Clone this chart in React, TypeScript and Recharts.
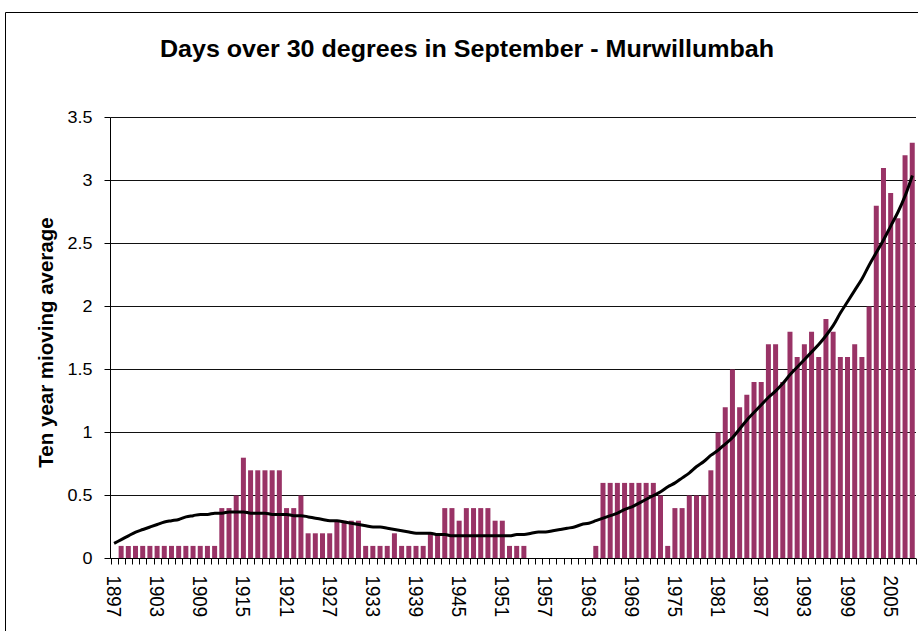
import React from 'react';
import { ComposedChart, Bar, Line, XAxis, YAxis, CartesianGrid } from 'recharts';

const years: number[] = Array.from({ length: 112 }, (_, i) => 1897 + i);

const movingAverage: number[] = [
  0,
  0.1, 0.1, 0.1, 0.1, 0.1, 0.1, 0.1, 0.1, 0.1, 0.1, 0.1, 0.1, 0.1, 0.1,
  0.4, 0.4, 0.5, 0.8, 0.7, 0.7, 0.7, 0.7, 0.7, 0.4, 0.4, 0.5,
  0.2, 0.2, 0.2, 0.2, 0.3, 0.3, 0.3, 0.3, 0.1, 0.1, 0.1, 0.1, 0.2, 0.1, 0.1, 0.1, 0.1,
  0.2, 0.2, 0.4, 0.4, 0.3, 0.4, 0.4, 0.4, 0.4, 0.3, 0.3, 0.1, 0.1, 0.1,
  0, 0, 0, 0, 0, 0, 0, 0, 0,
  0.1, 0.6, 0.6, 0.6, 0.6, 0.6, 0.6, 0.6, 0.6, 0.5, 0.1, 0.4, 0.4, 0.5, 0.5, 0.5, 0.7,
  1.0, 1.2, 1.5, 1.2, 1.3, 1.4, 1.4, 1.7, 1.7, 1.4, 1.8, 1.6, 1.7, 1.8, 1.6, 1.9, 1.8,
  1.6, 1.6, 1.7, 1.6, 2.0, 2.8, 3.1, 2.9, 2.7, 3.2, 3.3,
];

const trend: number[] = [
  0.12, 0.15, 0.18, 0.21, 0.23, 0.25, 0.27, 0.29, 0.30, 0.31,
  0.33, 0.34, 0.35, 0.35, 0.36, 0.36, 0.37, 0.37, 0.37, 0.36,
  0.36, 0.36, 0.35, 0.35, 0.35, 0.34, 0.34, 0.33, 0.32, 0.31,
  0.30, 0.30, 0.29, 0.28, 0.27, 0.26, 0.25, 0.25, 0.24, 0.23,
  0.22, 0.21, 0.20, 0.20, 0.20, 0.19, 0.19, 0.18, 0.18, 0.18,
  0.18, 0.18, 0.18, 0.18, 0.18, 0.18, 0.19, 0.19, 0.20, 0.21,
  0.21, 0.22, 0.23, 0.24, 0.25, 0.27, 0.28, 0.30, 0.32, 0.34,
  0.36, 0.39, 0.41, 0.44, 0.47, 0.50, 0.53, 0.57, 0.60, 0.64,
  0.68, 0.73, 0.77, 0.82, 0.86, 0.91, 0.96, 1.03, 1.10, 1.16,
  1.22, 1.28, 1.33, 1.39, 1.46, 1.52, 1.58, 1.64, 1.70, 1.77,
  1.85, 1.95, 2.04, 2.13, 2.22, 2.33, 2.43, 2.53, 2.64, 2.75,
  2.88, 3.04,
];

const yTicks: number[] = [0, 0.5, 1, 1.5, 2, 2.5, 3, 3.5];
const labelStep = 6;

const data = years.map((year, i) => ({ year, value: movingAverage[i], trend: trend[i] }));

const W = 918;
const H = 631;
const M_TOP = 117.5;
const M_RIGHT = 2;
const Y_AXIS_W = 110.5;
const X_AXIS_H = 72.5;
const BW = (W - Y_AXIS_W - M_RIGHT) / years.length;
const FONT = '"Liberation Sans", Arial, sans-serif';
const STRETCH = 1.09;

const XTick = (props: any) => {
  const { x, y, payload, index } = props;
  const i = typeof index === 'number' ? index : payload.index;
  const half = BW / 2;
  const tx = Math.round(x - half) + 0.5;
  const tx2 = Math.round(x + half) + 0.5;
  return (
    <g>
      <line x1={tx} x2={tx} y1={y} y2={y + 6} stroke="#000" strokeWidth={1} />
      {i === years.length - 1 && (
        <line x1={tx2} x2={tx2} y1={y} y2={y + 6} stroke="#000" strokeWidth={1} />
      )}
      {i % labelStep === 0 && (
        <text
          transform={`translate(${x},${y + 17}) scale(${STRETCH},1) rotate(90)`}
          x={0}
          y={0}
          dy="0.35em"
          textAnchor="start"
          fontSize={18.7}
          fontFamily={FONT}
          fill="#000"
        >
          {payload.value}
        </text>
      )}
    </g>
  );
};

const YTick = (props: any) => {
  const { x, y, payload } = props;
  return (
    <text
      transform={`translate(${x},${y}) scale(${STRETCH},1)`}
      x={0}
      y={0}
      dy="0.36em"
      textAnchor="end"
      fontSize={16.5}
      fontFamily={FONT}
      fill="#000"
    >
      {payload.value}
    </text>
  );
};

export default function App() {
  return (
    <div
      style={{
        position: 'absolute',
        left: 0,
        top: 0,
        width: W,
        height: H,
        overflow: 'hidden',
        background: '#fff',
      }}
    >
      <ComposedChart
        width={W}
        height={H}
        data={data}
        margin={{ top: M_TOP, right: M_RIGHT, bottom: 0, left: 0 }}
        barCategoryGap="13%"
      >
        <CartesianGrid vertical={false} stroke="#111" strokeWidth={1} />
        <XAxis
          dataKey="year"
          type="category"
          height={X_AXIS_H}
          interval={0}
          tickSize={0}
          tickMargin={0}
          tickLine={false}
          axisLine={{ stroke: '#000', strokeWidth: 1 }}
          tick={<XTick />}
        />
        <XAxis
          xAxisId="top"
          dataKey="year"
          orientation="top"
          height={0}
          tick={false}
          tickLine={false}
          axisLine={{ stroke: '#808080', strokeWidth: 2 }}
        />
        <YAxis
          width={Y_AXIS_W}
          domain={[0, 3.5]}
          ticks={yTicks}
          interval={0}
          tickSize={6}
          tickMargin={12}
          tickLine={{ stroke: '#000' }}
          axisLine={{ stroke: '#000', strokeWidth: 1 }}
          tick={<YTick />}
        />
        <YAxis
          yAxisId="right"
          orientation="right"
          width={0}
          domain={[0, 3.5]}
          tick={false}
          tickLine={false}
          axisLine={{ stroke: '#808080', strokeWidth: 2 }}
        />
        <Bar dataKey="value" fill="#993366" isAnimationActive={false} />
        <Line
          dataKey="trend"
          type="monotone"
          stroke="#000"
          strokeWidth={3}
          dot={false}
          activeDot={false}
          isAnimationActive={false}
        />
      </ComposedChart>
      <svg
        width={W}
        height={H}
        style={{ position: 'absolute', left: 0, top: 0, pointerEvents: 'none' }}
      >
        <path d={`M5.5 ${H} V12.5 H${W}`} fill="none" stroke="#000" strokeWidth={1} />
        <text
          transform={`translate(467,56.7) scale(${STRETCH},1)`}
          x={0}
          y={0}
          textAnchor="middle"
          fontSize={23}
          fontWeight="bold"
          fontFamily={FONT}
          fill="#000"
        >
          Days over 30 degrees in September - Murwillumbah
        </text>
        <text
          transform="translate(52.5,342.5) rotate(-90)"
          x={0}
          y={0}
          textAnchor="middle"
          fontSize={20.5}
          fontWeight="bold"
          fontFamily={FONT}
          fill="#000"
        >
          Ten year mioving average
        </text>
      </svg>
    </div>
  );
}
